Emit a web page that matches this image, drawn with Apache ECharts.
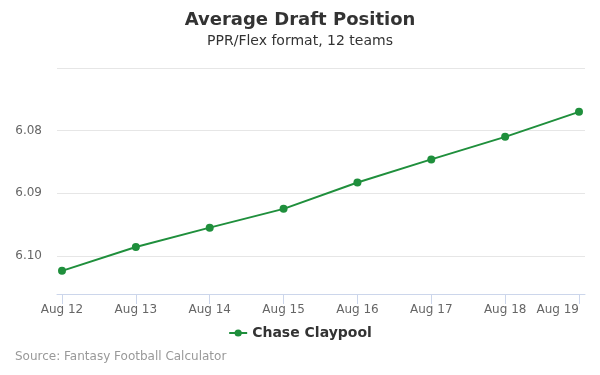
<!DOCTYPE html>
<html>
<head>
<meta charset="utf-8">
<script src="https://cdn.jsdelivr.net/npm/echarts@6/dist/echarts.min.js"></script>
<style>html,body{margin:0;padding:0;background:#fff}#c{width:600px;height:375px}</style>
</head>
<body>
<div id="c"></div>
<script>
var categories = ['Aug 12','Aug 13','Aug 14','Aug 15','Aug 16','Aug 17','Aug 18','Aug 19'];
var adpValues = [6.1024, 6.0986, 6.0955, 6.0925, 6.0883, 6.0846, 6.0810, 6.0770];
var yTickLabels = ['6.08','6.09','6.10'];
var seriesName = 'Chase Claypool';

var yMin = 6.07, yMax = 6.1061, yInt = 0.01;
var font = 'DejaVu Sans, Liberation Sans, sans-serif';
var chart = echarts.init(document.getElementById('c'));
chart.setOption({
  animation: false,
  title: [
    {text: 'Average Draft Position', left: 'center', top: 6,
     textStyle: {fontFamily: font, fontSize: 18, fontWeight: 'bold', color: '#333'}},
    {text: 'PPR/Flex format, 12 teams', left: 'center', top: 29,
     textStyle: {fontFamily: font, fontSize: 14, fontWeight: 'normal', color: '#333'}},
    {text: 'Source: Fantasy Football Calculator', left: 10, top: 346,
     textStyle: {fontFamily: font, fontSize: 12, fontWeight: 'normal', color: '#999'}}
  ],
  legend: {
    data: [seriesName], left: 'center', top: 321, itemWidth: 18, itemHeight: 9, itemGap: 5,
    textStyle: {fontFamily: font, fontSize: 14, fontWeight: 'bold', color: '#333'}
  },
  grid: [
    {left: 62, right: 21, top: 68, bottom: 81, outerBoundsMode: 'none', containLabel: false},
    {left: 57, right: 15, top: 68, bottom: 81, outerBoundsMode: 'none', containLabel: false}
  ],
  xAxis: [
    {type: 'category', gridIndex: 0, data: categories, boundaryGap: false,
     axisLine: {show: false},
     axisTick: {show: true, length: 10, lineStyle: {color: '#ccd6eb'}},
     axisLabel: {fontFamily: font, fontSize: 12, color: '#666', margin: 10, hideOverlap: false,
       alignMaxLabel: 'right'},
     splitLine: {show: false}},
    {type: 'value', gridIndex: 1, min: 0, max: 1, show: true,
     axisLine: {show: true, lineStyle: {color: '#ccd6eb'}},
     axisTick: {show: false}, axisLabel: {show: false}, splitLine: {show: false}}
  ],
  yAxis: [
    {type: 'value', gridIndex: 0, inverse: true, min: yMin, max: yMax, interval: yInt,
     axisLine: {show: false}, axisTick: {show: false}, splitLine: {show: false},
     axisLabel: {fontFamily: font, fontSize: 12, color: '#666', margin: 20, showMaxLabel: false,
       formatter: function (v) {
         var s = v.toFixed(2);
         return yTickLabels.indexOf(s) >= 0 && Math.abs(v - parseFloat(s)) < 1e-6 ? s : '';
       }}},
    {type: 'value', gridIndex: 1, inverse: true, min: yMin, max: yMax, interval: yInt,
     axisLine: {show: false}, axisTick: {show: false}, axisLabel: {show: false},
     splitLine: {show: true, showMaxLine: false, lineStyle: {color: '#e6e6e6', width: 1}}}
  ],
  series: [{
    name: seriesName, type: 'line', xAxisIndex: 0, yAxisIndex: 0,
    data: adpValues, symbol: 'circle', symbolSize: 8,
    lineStyle: {color: '#1f8f3c', width: 2},
    itemStyle: {color: '#1f8f3c'}
  }]
});
</script>
</body>
</html>
